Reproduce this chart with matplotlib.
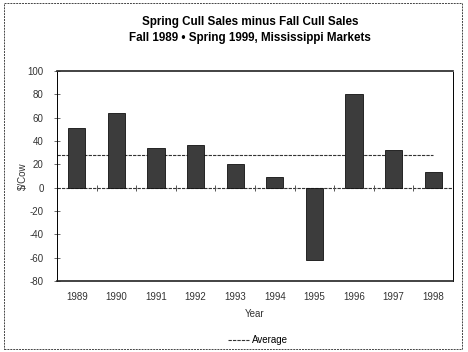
import numpy as np
import matplotlib.pyplot as plt
from matplotlib.patches import Rectangle
from matplotlib.lines import Line2D

years = ['1989', '1990', '1991', '1992', '1993', '1994', '1995', '1996', '1997', '1998']
diff = [51, 64, 34, 37, 20, 9.5, -62, 80, 32, 13.5]
avg = np.mean(diff)

plt.rcParams['font.family'] = ['Liberation Sans', 'DejaVu Sans']
plt.rcParams['axes.unicode_minus'] = False

fig = plt.figure(figsize=(4.68, 3.52), dpi=100)
ax = fig.add_axes([57/468, 1 - 281/352, 396/468, 210/352])

x = np.arange(len(years))
ax.bar(x, diff, width=0.43, color='#3c3c3c', edgecolor='#111111', linewidth=0.6, zorder=3)

# average line, runs from left edge to last bar
ax.plot([-0.5, x[-1]], [avg, avg], ls=(0, (3, 1)), color='#333333', lw=0.8, zorder=2)

# zero line with little tick marks between categories
ax.axhline(0, color='#333333', lw=0.8, ls=(0, (3, 1)), zorder=2)
ax.plot(x[:-1] + 0.5, np.zeros(len(x) - 1), marker='|', ls='none',
        ms=5, mew=0.7, color='#555555', zorder=2)

ax.set_xlim(-0.5, len(years) - 0.5)
ax.set_ylim(-80, 100)
ax.set_yticks(np.arange(-80, 101, 20))
ax.set_xticks(x)
ax.set_xticklabels(years)
ax.tick_params(axis='x', length=0, pad=8, labelsize=7, labelcolor='#333333')
ax.tick_params(axis='y', direction='inout', length=5, width=0.6, labelsize=7,
               labelcolor='#333333', pad=7, color='#555555')

for side in ['top', 'bottom']:
    ax.spines[side].set_linewidth(1.2)
    ax.spines[side].set_color('#222222')
ax.spines['left'].set_linestyle((0, (2, 1)))
ax.spines['left'].set_linewidth(0.7)
ax.spines['right'].set_linestyle((0, (2, 1)))
ax.spines['right'].set_linewidth(0.7)

ax.set_ylabel('$/Cow', fontsize=7, color='#333333', labelpad=0)
ax.set_xlabel('Year', fontsize=7, color='#333333', labelpad=5)

fig.text(0.534, 1 - 22/352, 'Spring Cull Sales minus Fall Cull Sales',
         ha='center', va='center', fontsize=8.4, fontweight='bold')
fig.text(0.534, 1 - 38/352, 'Fall 1989 \u2022 Spring 1999, Mississippi Markets',
         ha='center', va='center', fontsize=8.4, fontweight='bold')

handle = Line2D([], [], ls=(0, (3, 1)), color='#333333', lw=0.8)
fig.legend([handle], ['Average'], loc='center', bbox_to_anchor=(258/468, 1 - 340/352),
           frameon=False, fontsize=7, handlelength=2.2, handletextpad=0.3)

fig.patches.append(Rectangle((4/468, 3/352), 458/468, 346/352, transform=fig.transFigure,
                             fill=False, ls=(0, (2, 1)), lw=0.7, edgecolor='#444444'))

fig.savefig('out.png', dpi=100)
